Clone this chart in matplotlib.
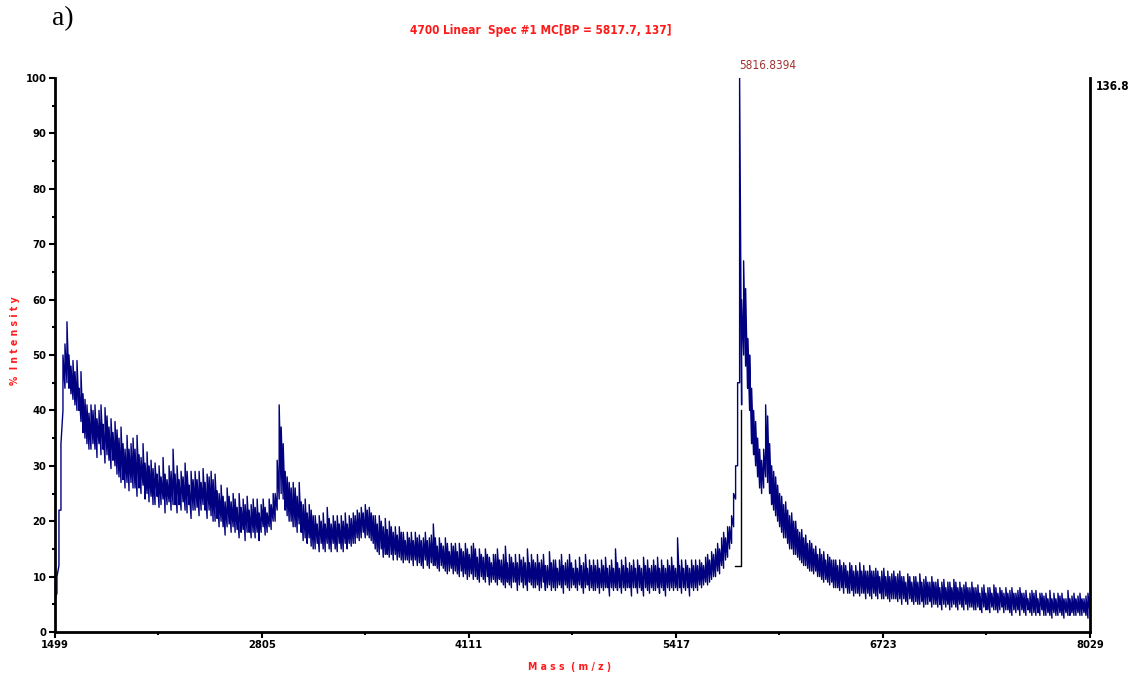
#!/usr/bin/env python3

import numpy as np
import matplotlib.pyplot as plt
from matplotlib import font_manager
from matplotlib.font_manager import FontProperties
from matplotlib.ticker import MultipleLocator, FixedLocator


MASS_MIN = 1499
MASS_MAX = 8029
PEAK_MASS = 5816.8394

upper = [
    6, 10, 22, 34, 50, 52, 56, 50, 48, 49,
    47, 49, 44, 47, 43, 42, 41, 39.5, 41, 40,
    41, 38.5, 40, 41, 37.5, 40.5, 39, 37, 38.5, 36,
    38, 36.5, 35, 37, 34, 33, 35.5, 33, 34, 35,
    33, 35.5, 32, 31.5, 34, 30.5, 32.5, 30, 31, 29.5,
    30.5, 28.5, 30, 28, 31.5, 28.5, 27.5, 30, 29, 33,
    28.5, 30, 27.5, 29, 28, 30.5, 29, 26.5, 29, 27.5,
    29, 27.5, 29, 27, 29.5, 27, 28.5, 28, 29, 27.5,
    28.5, 25.5, 25, 26.5, 24.5, 23.5, 26, 24.5, 23.5, 25,
    24, 22.5, 25, 22.5, 24, 23, 24.5, 22, 23, 24,
    22.5, 24, 21.5, 23, 24, 22.5, 21.5, 24, 23, 25,
    25, 31, 41, 37, 34, 29, 28, 27, 26, 27,
    26, 24.5, 27, 23.5, 23, 24, 21.5, 23, 22, 21,
    21, 19.5, 21, 20, 21.5, 19.5, 22.5, 20.5, 19.5, 21,
    20, 21, 19.5, 21, 20, 21.5, 19.5, 21, 20.5, 21.5,
    21, 22, 21.5, 22.5, 21.5, 23, 22, 22.5, 21.5, 21,
    21, 19.5, 21, 20, 19, 20.5, 18.5, 20, 19, 18,
    19, 17.5, 19, 18, 18, 16.5, 18, 17, 18, 16.5,
    18, 17, 17.5, 16.5, 17, 18, 16.5, 17, 17.5, 19.5,
    17, 15.5, 17, 16, 15.5, 17, 16, 14.5, 16, 15.5,
    16, 14.5, 16, 15, 14.5, 16, 15, 14, 15.5, 16,
    15, 13.5, 15, 14, 13.5, 15, 14, 13.5, 12.5, 14,
    14, 15, 13, 13, 14, 15.5, 12.5, 14, 13.5, 12.5,
    14, 12.5, 14, 13, 13.5, 12.5, 15, 12.5, 14, 13,
    12.5, 14, 12.5, 13, 14, 12, 12, 14.5, 12.5, 13,
    13, 11.5, 13, 14, 12, 12.5, 13, 14, 12.5, 11.5,
    13, 11.5, 13.5, 12, 12.5, 14, 11.5, 13, 12, 13,
    12, 13, 11.5, 13, 12, 13.5, 11.5, 12, 13, 11.5,
    15, 12.5, 11.5, 13, 12, 13.5, 11.5, 12.5, 12, 13,
    11.5, 13, 12, 11.5, 13.5, 12, 13, 11.5, 12, 13,
    12, 13.5, 11.5, 13, 12, 11.5, 13, 12, 13.5, 12,
    11.5, 17, 12, 13, 11.5, 13, 12, 11.5, 13, 12,
    13, 12, 13, 12.5, 12, 13.5, 14, 13, 14.5, 14,
    15, 16, 15, 17, 18, 17, 19, 19, 21, 25,
    30, 45, 100, 60, 67, 62, 53, 50, 44, 40,
    38, 35, 33, 31, 33, 41, 39, 34, 30, 29,
    28, 26.5, 25, 24.5, 23, 23.5, 22, 21, 21.5, 20,
    20, 18.5, 18, 18.5, 17, 17.5, 16, 16.5, 16, 15,
    15.5, 14, 15, 14, 14.5, 13, 14, 13.5, 13, 13,
    13, 12, 13, 12, 12.5, 12, 11, 12.5, 12, 11,
    12, 11, 12.5, 11, 12, 11, 11, 12, 11, 11,
    11.5, 11, 10, 11, 11.5, 10, 11, 10, 10.5, 11,
    10, 10.5, 11, 10, 10, 9, 10.5, 10, 9, 10,
    10, 9, 10.5, 9, 9.5, 10, 9, 9, 10, 9,
    9, 9.5, 8, 9, 9.5, 8, 9, 9, 8, 9.5,
    9, 8, 9, 8, 8.5, 9, 8, 8, 9, 8,
    8, 8.5, 7, 8, 8.5, 7, 8, 8, 7, 8.5,
    8, 7, 8, 7.5, 7, 8, 7, 7.5, 8, 7,
    7, 7.5, 8, 7, 7, 7.5, 6, 7, 7.5, 7,
    7.5, 6, 7, 7, 6.5, 7, 6, 7.5, 6, 7,
    6, 7, 6.5, 7, 6, 6, 7.5, 6, 6.5, 7,
    6, 6.5, 7, 6, 6, 6.5, 7, 6,
]

lower = [
    4, 7, 12, 22, 40, 44, 45, 44, 43, 42,
    41, 40, 40, 38, 36, 35, 34, 33, 33, 34,
    33, 31.5, 34, 32, 33, 30.5, 32, 31, 29.5, 31,
    30, 28.5, 28, 27, 27.5, 26, 27, 25.5, 27, 26,
    26, 24.5, 26, 25, 26.5, 24, 25, 23.5, 24.5, 23,
    23, 24.5, 22.5, 23, 24, 21.5, 23, 23.5, 22, 23,
    23, 21.5, 23, 22, 23.5, 22, 21.5, 23, 20.5, 22,
    22, 22.5, 21, 22, 23, 22, 20.5, 22, 21, 20,
    20, 20.5, 19, 20, 19, 17.5, 19, 19.5, 18, 19,
    18, 18.5, 17, 18, 18.5, 16.5, 18, 18, 17, 18,
    17, 18, 16.5, 18, 19, 17.5, 18, 19, 18.5, 20,
    20, 22, 24, 25, 24, 22, 21, 20, 20, 19,
    19, 18, 19.5, 18, 16.5, 17, 16, 17, 15.5, 15,
    15, 16, 14.5, 16, 15, 14.5, 16, 15, 14.5, 16,
    15, 14.5, 16, 15, 14.5, 16, 15, 16, 15.5, 16,
    16, 17, 16.5, 17, 18, 17, 17.5, 17, 16.5, 16,
    15, 14.5, 14, 15, 13.5, 14, 14, 13.5, 14, 13,
    14, 13, 13.5, 13, 12.5, 13, 13, 12.5, 13, 12,
    13, 12, 12.5, 12, 11.5, 13, 12, 11.5, 12.5, 12,
    12, 11.5, 11, 12, 11.5, 11, 10.5, 11, 11.5, 10.5,
    11, 10.5, 10, 11, 10, 10.5, 9.5, 10, 10.5, 9.5,
    10, 9.5, 9, 10, 9.5, 9, 10, 8.5, 9, 9.5,
    9, 8.5, 9.5, 9, 8.5, 8, 9, 8.5, 8, 9,
    9, 7.5, 8.5, 9, 8, 8.5, 7.5, 9, 8.5, 8,
    8, 8.5, 7.5, 8, 9, 7.5, 8, 8.5, 7.5, 8,
    7.5, 8, 8.5, 8, 7, 8.5, 8, 7.5, 8, 8.5,
    8, 7.5, 8.5, 8, 7, 8, 8.5, 7.5, 8, 7.5,
    7.5, 8, 7, 8, 7.5, 8, 8, 6.5, 8, 7.5,
    8, 7.5, 8, 7, 8, 7.5, 8, 8, 6.5, 8,
    8, 7, 8, 7.5, 6.5, 8, 7.5, 7, 8, 7.5,
    7.5, 8, 7, 8, 7.5, 6.5, 8, 7.5, 8, 7.5,
    8, 7.5, 8, 7, 8, 7.5, 8, 6.5, 8, 7.5,
    8, 7.5, 8.5, 8, 8.5, 9, 8.5, 9, 9.5, 10,
    10, 11, 10.5, 12, 11.5, 13, 13.5, 15, 16, 19,
    24, 30, 45, 41, 50, 48, 44, 40, 34, 32,
    30, 28, 26, 25, 26, 28, 27, 25, 23, 22,
    21, 20, 19, 18, 17, 17, 16, 15, 15, 14,
    14, 13.5, 13, 12.5, 12, 12, 11.5, 11, 11, 10.5,
    11, 10, 10, 9.5, 9, 9.5, 9, 8.5, 9, 8,
    8, 8, 7.5, 8, 7, 8, 7, 7, 7.5, 6.5,
    7, 7, 6.5, 7, 7, 6, 7, 6.5, 6, 7,
    6.5, 6, 7, 6, 6, 6.5, 6, 5.5, 6, 6,
    6, 5.5, 6, 5, 6, 5.5, 5, 6, 5.5, 5,
    5.5, 5, 5, 5.5, 4.5, 5, 5, 5.5, 4.5, 5,
    5, 4.5, 5, 4, 5, 4.5, 5, 4, 4.5, 5,
    4.5, 4, 5, 4.5, 4, 5, 4, 4.5, 4.5, 4,
    4, 4.5, 4, 3.5, 4.5, 4, 4, 3.5, 4.5, 4,
    4, 3.5, 4, 4.5, 3.5, 4, 4, 3.5, 3, 4,
    3.5, 4, 3, 4, 3.5, 3, 4, 3.5, 3, 3.5,
    3, 3.5, 3, 4, 3, 3, 3.5, 3, 2.5, 3.5,
    3, 3, 3.5, 3, 2.5, 3.5, 3, 3, 3.5, 3,
    3, 3.5, 3, 3, 3.5, 3, 2.5, 3.5,
]

# centroid marker drawn by the instrument software
marker_mass = [5789, 5827, 5827]
marker_int = [12, 12, 40]

x_ticks = [1499, 2805, 4111, 5417, 6723, 8029]


def pick_font(names):
    for name in names:
        try:
            font_manager.findfont(FontProperties(family=name),
                                  fallback_to_default=False)
            return name
        except ValueError:
            continue
    return "DejaVu Sans"


NARROW = pick_font(["Liberation Sans Narrow", "Arial Narrow", "Nimbus Sans Narrow"])
FS = 8.5 if NARROW != "DejaVu Sans" else 7.5
RED = "#ff1a1a"
TXT = dict(family=NARROW, stretch="condensed", fontweight="bold")

mass = np.linspace(MASS_MIN, MASS_MAX, len(upper))
trace_x = np.repeat(mass, 2)
trace_y = np.column_stack([lower, upper]).ravel()

fig = plt.figure(figsize=(11.33, 6.82), dpi=100)
ax = fig.add_axes([0.0485, 0.0733, 0.9135, 0.8123])

ax.plot(marker_mass, marker_int, color="black", lw=1.0, zorder=1)
ax.plot(trace_x, trace_y, color="#000080", lw=1.0, zorder=2)

ax.set_xlim(MASS_MIN, MASS_MAX)
ax.set_ylim(0, 100)

ax.spines["top"].set_visible(False)
for side in ["left", "bottom", "right"]:
    ax.spines[side].set_linewidth(2.0)

ax.xaxis.set_major_locator(FixedLocator(x_ticks))
ax.xaxis.set_minor_locator(FixedLocator(
    [(a + b) / 2 for a, b in zip(x_ticks[:-1], x_ticks[1:])]))
ax.yaxis.set_major_locator(MultipleLocator(10))
ax.yaxis.set_minor_locator(MultipleLocator(5))
ax.tick_params(which="major", length=4, width=1.5, pad=2)
ax.tick_params(which="minor", length=2, width=1.5)
ax.tick_params(axis="y", which="both", right=False)

for lab in ax.get_xticklabels() + ax.get_yticklabels():
    lab.set(fontsize=FS + 0.5, **TXT)

fig.text(0.503, 0.022, "M a s s  ( m / z )", color=RED, fontsize=FS,
         ha="center", va="center", **TXT)
fig.text(0.0135, 0.501, "%  I n t e n s i t y", color=RED, fontsize=FS,
         rotation=90, ha="center", va="center", **TXT)

ax.text(PEAK_MASS, 101, "5816.8394", color="#a03030", family=NARROW,
        stretch="condensed", fontsize=FS + 1, ha="left", va="bottom")
ax.text(1.006, 0.985, "136.8", transform=ax.transAxes, fontsize=FS + 1,
        ha="left", va="center", **TXT)

fig.text(0.477, 0.955, "4700 Linear  Spec #1 MC[BP = 5817.7, 137]",
         color=RED, fontsize=FS + 1, ha="center", va="center", **TXT)
fig.text(0.046, 0.973, "a)", family=["Liberation Serif", "DejaVu Serif"],
         fontsize=20, ha="left", va="center")

fig.savefig("out.png", dpi=100)
